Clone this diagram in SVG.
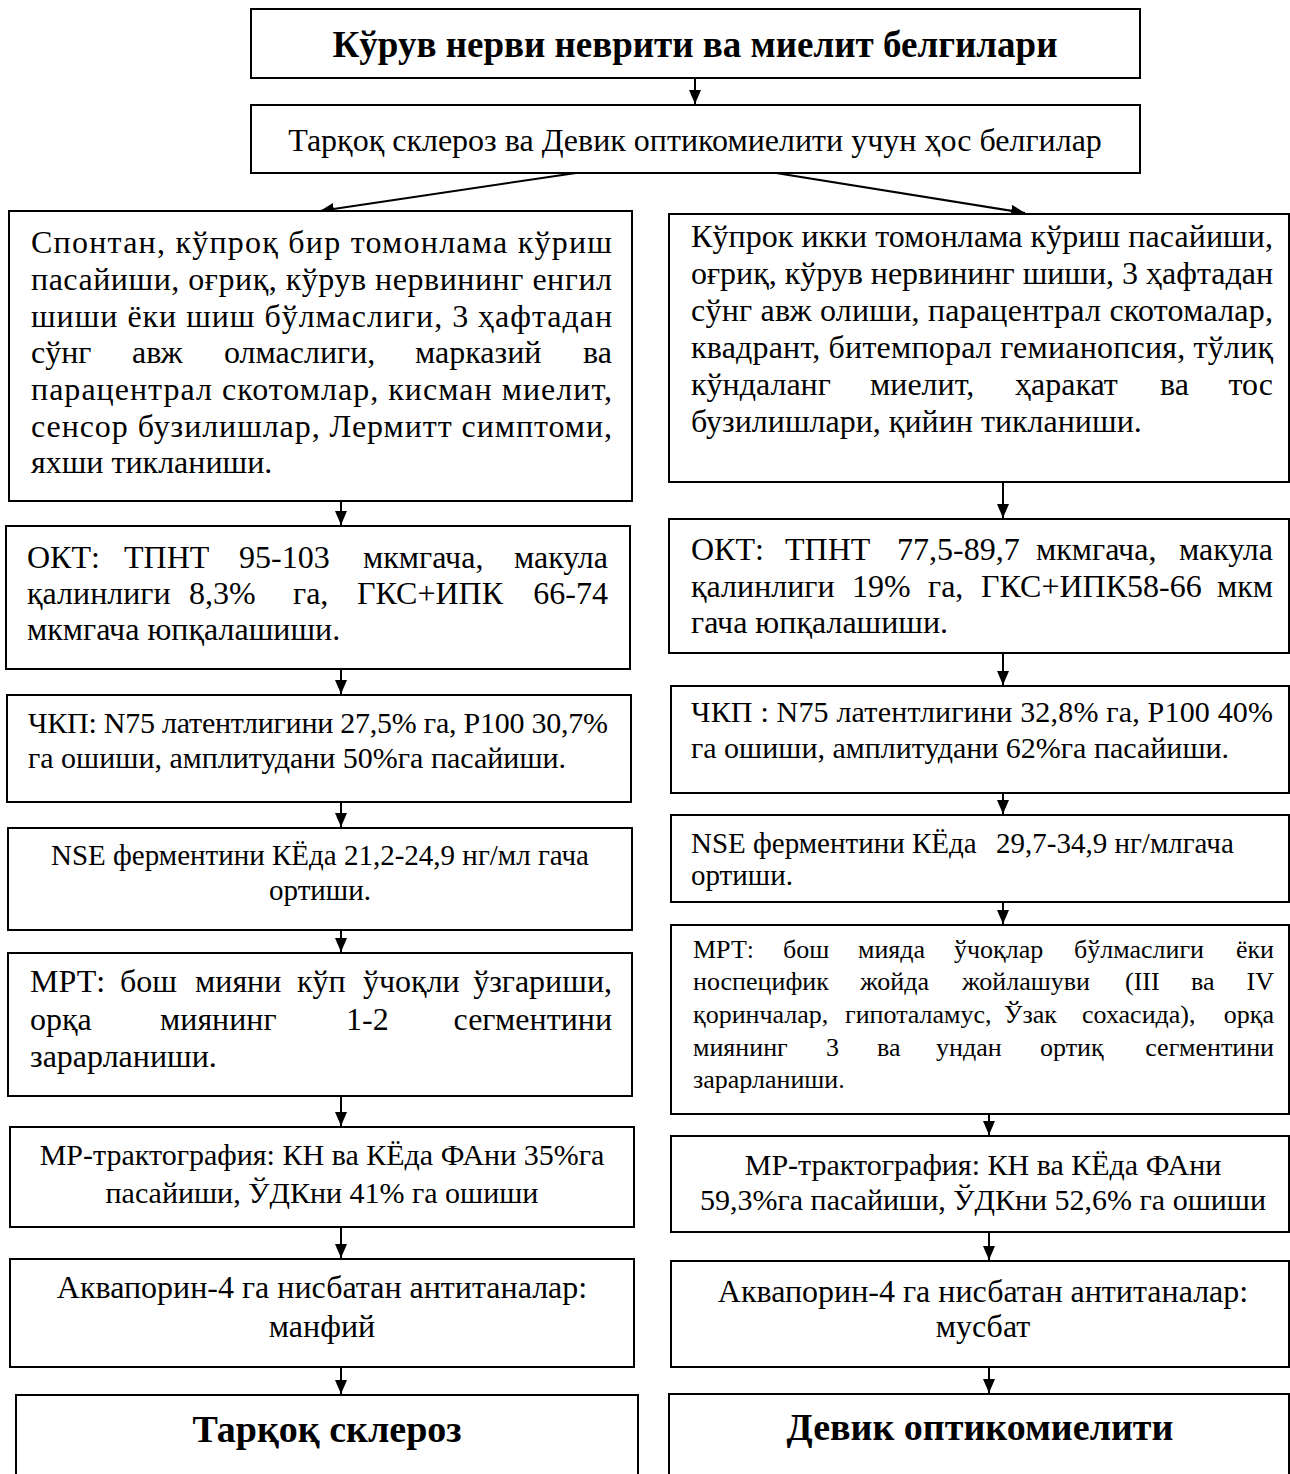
<svg xmlns="http://www.w3.org/2000/svg" width="1290" height="1474" viewBox="0 0 1290 1474">
<style>
.bx{fill:#fff;stroke:#000;stroke-width:2}
.cn{stroke:#000;stroke-width:2;fill:none}
text{font-family:"Liberation Serif","Times New Roman","DejaVu Serif",serif;fill:#000}
.f32{font-size:32px}
.f30{font-size:30px}
.f29{font-size:29px}
.f26{font-size:26px}
.h1{font-size:37px;font-weight:bold}
.h2{font-size:38px;font-weight:bold}
.m{text-anchor:middle}
.e{text-anchor:end}
</style>
<defs>
<marker id="ar" viewBox="0 0 14 12" refX="14" refY="6" markerWidth="14" markerHeight="12" markerUnits="userSpaceOnUse" orient="auto">
<path d="M0,0 L14,6 L0,12 Z" fill="#000"/>
</marker>
</defs>
<rect width="1290" height="1474" fill="#fff"/>

<g id="connectors" class="cn" marker-end="url(#ar)">
<line x1="695" y1="78" x2="695" y2="104"/>
<line x1="576" y1="173" x2="320" y2="211"/>
<line x1="776" y1="173" x2="1025" y2="213"/>
<line x1="341" y1="501" x2="341" y2="525"/>
<line x1="341" y1="669" x2="341" y2="694"/>
<line x1="341" y1="802" x2="341" y2="827"/>
<line x1="341" y1="930" x2="341" y2="952"/>
<line x1="341" y1="1096" x2="341" y2="1126"/>
<line x1="341" y1="1227" x2="341" y2="1258"/>
<line x1="341" y1="1367" x2="341" y2="1394"/>
<line x1="1003" y1="482" x2="1003" y2="518"/>
<line x1="1003" y1="653" x2="1003" y2="685"/>
<line x1="1003" y1="793" x2="1003" y2="814"/>
<line x1="1003" y1="902" x2="1003" y2="924"/>
<line x1="989" y1="1114" x2="989" y2="1135"/>
<line x1="989" y1="1232" x2="989" y2="1260"/>
<line x1="989" y1="1367" x2="989" y2="1393"/>
</g>

<g id="title">
<rect class="bx" x="251" y="9" width="889" height="69"/>
<text class="h1 m" x="695" y="57">Кўрув нерви неврити ва миелит белгилари</text>
</g>

<g id="common">
<rect class="bx" x="251" y="105" width="889" height="68"/>
<text class="f32 m" x="695" y="151">Тарқоқ склероз ва Девик оптикомиелити учун ҳос белгилар</text>
</g>

<g id="left-clinic">
<rect class="bx" x="9" y="211" width="623" height="290"/>
<g class="f32">
<text x="31" y="253" textLength="581" lengthAdjust="spacing">Спонтан, кўпроқ бир томонлама кўриш</text>
<text x="31" y="290" textLength="581" lengthAdjust="spacing">пасайиши, оғриқ, кўрув нервининг енгил</text>
<text x="31" y="326.5" textLength="581" lengthAdjust="spacing">шиши ёки шиш бўлмаслиги, 3 ҳафтадан</text>
<text y="363"><tspan x="31">сўнг</tspan><tspan x="132">авж</tspan><tspan x="224">олмаслиги,</tspan><tspan x="415">марказий</tspan></text>
<text class="e" x="612" y="363">ва</text>
<text x="31" y="400" textLength="581" lengthAdjust="spacing">парацентрал скотомлар, кисман миелит,</text>
<text x="31" y="436.5" textLength="581" lengthAdjust="spacing">сенсор бузилишлар, Лермитт симптоми,</text>
<text x="31" y="473">яхши тикланиши.</text>
</g>
</g>

<g id="right-clinic">
<rect class="bx" x="669" y="214" width="620" height="268"/>
<g class="f32">
<text x="691" y="247" textLength="582" lengthAdjust="spacing">Кўпрок икки томонлама кўриш пасайиши,</text>
<text x="691" y="284" textLength="582" lengthAdjust="spacing">оғриқ, кўрув нервининг шиши, 3 ҳафтадан</text>
<text x="691" y="321" textLength="582" lengthAdjust="spacing">сўнг авж олиши, парацентрал скотомалар,</text>
<text x="691" y="358" textLength="582" lengthAdjust="spacing">квадрант, битемпорал гемианопсия, тўлиқ</text>
<text y="395"><tspan x="691">кўндаланг</tspan><tspan x="870">миелит,</tspan><tspan x="1015">ҳаракат</tspan><tspan x="1160">ва</tspan></text>
<text class="e" x="1273" y="395">тос</text>
<text x="691" y="432">бузилишлари, қийин тикланиши.</text>
</g>
</g>

<g id="left-okt">
<rect class="bx" x="6" y="526" width="624" height="143"/>
<g class="f32">
<text y="568"><tspan x="27">ОКТ:</tspan><tspan x="124">ТПНТ</tspan><tspan x="239">95-103</tspan><tspan x="363">мкмгача,</tspan></text>
<text class="e" x="608" y="568">макула</text>
<text y="604"><tspan x="27">қалинлиги</tspan><tspan x="189">8,3%</tspan><tspan x="293">га,</tspan><tspan x="357">ГКС+ИПК</tspan></text>
<text class="e" x="608" y="604">66-74</text>
<text x="27" y="640">мкмгача юпқалашиши.</text>
</g>
</g>

<g id="right-okt">
<rect class="bx" x="669" y="519" width="620" height="134"/>
<g class="f32">
<text y="560"><tspan x="691">ОКТ:</tspan><tspan x="785">ТПНТ</tspan><tspan x="897">77,5-89,7</tspan><tspan x="1036">мкмгача,</tspan></text>
<text class="e" x="1273" y="560">макула</text>
<text y="597"><tspan x="691">қалинлиги</tspan><tspan x="852">19%</tspan><tspan x="928">га,</tspan><tspan x="981">ГКС+ИПК58-66</tspan></text>
<text class="e" x="1273" y="597">мкм</text>
<text x="691" y="633">гача юпқалашиши.</text>
</g>
</g>

<g id="left-vep">
<rect class="bx" x="7" y="695" width="624" height="107"/>
<g class="f30">
<text x="28" y="733" textLength="580" lengthAdjust="spacing">ЧКП: N75 латентлигини 27,5% га, Р100 30,7%</text>
<text x="28" y="768">га ошиши, амплитудани 50%га пасайиши.</text>
</g>
</g>

<g id="right-vep">
<rect class="bx" x="671" y="686" width="618" height="107"/>
<g class="f30">
<text x="691" y="722" textLength="582" lengthAdjust="spacing">ЧКП : N75 латентлигини 32,8% га, Р100 40%</text>
<text x="691" y="758">га ошиши, амплитудани 62%га пасайиши.</text>
</g>
</g>

<g id="left-nse">
<rect class="bx" x="8" y="828" width="624" height="102"/>
<g class="f29 m">
<text x="320" y="865">NSE ферментини КЁда 21,2-24,9 нг/мл гача</text>
<text x="320" y="900">ортиши.</text>
</g>
</g>

<g id="right-nse">
<rect class="bx" x="671" y="815" width="618" height="87"/>
<g class="f29">
<text y="853"><tspan x="691">NSE ферментини</tspan><tspan x="912">КЁда</tspan><tspan x="996">29,7-34,9 нг/млгача</tspan></text>
<text x="691" y="885">ортиши.</text>
</g>
</g>

<g id="left-mri">
<rect class="bx" x="8" y="953" width="624" height="143"/>
<g class="f32">
<text y="992"><tspan x="30">МРТ:</tspan><tspan x="120">бош</tspan><tspan x="195">мияни</tspan><tspan x="297">кўп</tspan><tspan x="363">ўчоқли</tspan></text>
<text class="e" x="612" y="992">ўзгариши,</text>
<text y="1030"><tspan x="30">орқа</tspan><tspan x="160">миянинг</tspan><tspan x="346">1-2</tspan></text>
<text class="e" x="612" y="1030">сегментини</text>
<text x="30" y="1067">зарарланиши.</text>
</g>
</g>

<g id="right-mri">
<rect class="bx" x="671" y="925" width="618" height="189"/>
<g class="f26">
<text y="958"><tspan x="693">МРТ:</tspan><tspan x="783">бош</tspan><tspan x="858">мияда</tspan><tspan x="954">ўчоқлар</tspan><tspan x="1074">бўлмаслиги</tspan></text>
<text class="e" x="1274" y="958">ёки</text>
<text y="990"><tspan x="693">носпецифик</tspan><tspan x="860">жойда</tspan><tspan x="962">жойлашуви</tspan><tspan x="1125">(III</tspan><tspan x="1191">ва</tspan></text>
<text class="e" x="1274" y="990">IV</text>
<text y="1023"><tspan x="693">қоринчалар,</tspan><tspan x="845">гипоталамус,</tspan><tspan x="1004">Ўзак</tspan><tspan x="1082">сохасида),</tspan></text>
<text class="e" x="1274" y="1023">орқа</text>
<text y="1056"><tspan x="693">миянинг</tspan><tspan x="826">3</tspan><tspan x="877">ва</tspan><tspan x="936">ундан</tspan><tspan x="1040">ортиқ</tspan></text>
<text class="e" x="1274" y="1056">сегментини</text>
<text x="693" y="1088">зарарланиши.</text>
</g>
</g>

<g id="left-tract">
<rect class="bx" x="10" y="1127" width="624" height="100"/>
<g class="f30 m">
<text x="322" y="1165">МР-трактография: КН ва КЁда ФАни 35%га</text>
<text x="322" y="1203">пасайиши, ЎДКни 41% га ошиши</text>
</g>
</g>

<g id="right-tract">
<rect class="bx" x="671" y="1136" width="618" height="96"/>
<g class="f30 m">
<text x="983" y="1175">МР-трактография: КН ва КЁда ФАни</text>
<text x="983" y="1210">59,3%га пасайиши, ЎДКни 52,6% га ошиши</text>
</g>
</g>

<g id="left-aqp4">
<rect class="bx" x="10" y="1259" width="624" height="108"/>
<g class="f32 m">
<text x="322" y="1298">Аквапорин-4 га нисбатан антитаналар:</text>
<text x="322" y="1337">манфий</text>
</g>
</g>

<g id="right-aqp4">
<rect class="bx" x="671" y="1261" width="618" height="106"/>
<g class="f32 m">
<text x="983" y="1302">Аквапорин-4 га нисбатан антитаналар:</text>
<text x="983" y="1337">мусбат</text>
</g>
</g>

<g id="left-result">
<rect class="bx" x="16" y="1395" width="622" height="90"/>
<text class="h2 m" x="327" y="1442">Тарқоқ склероз</text>
</g>

<g id="right-result">
<rect class="bx" x="669" y="1394" width="620" height="90"/>
<text class="h2 m" x="980" y="1440">Девик оптикомиелити</text>
</g>
</svg>
